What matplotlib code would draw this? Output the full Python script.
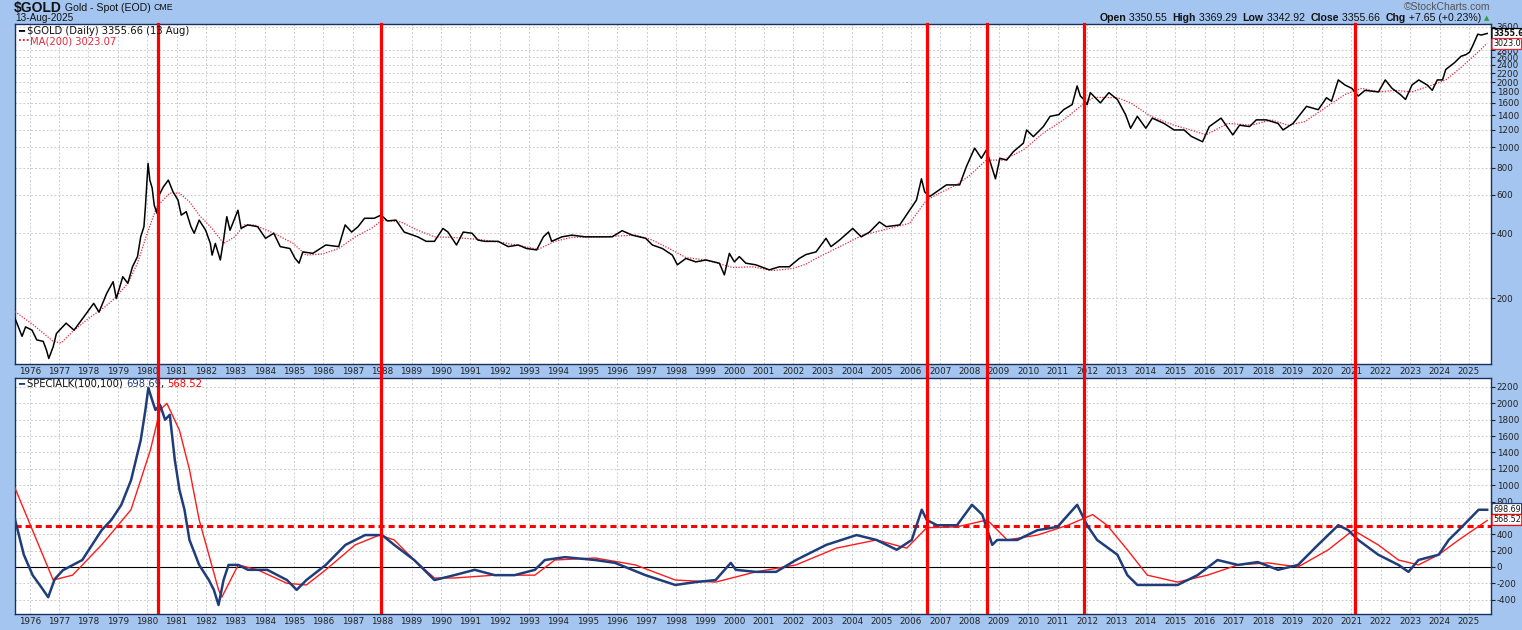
import matplotlib
matplotlib.use('Agg')
import matplotlib.pyplot as plt
from matplotlib.ticker import FixedLocator, NullLocator

# ---- data ----
gold_years = [1975.50, 1975.74, 1975.86, 1976.08, 1976.24, 1976.46, 1976.57, 1976.65, 1976.80, 1976.91,
              1977.24, 1977.51, 1977.85, 1978.18, 1978.36, 1978.62, 1978.84, 1978.95, 1979.17, 1979.34,
              1979.50, 1979.67, 1979.78, 1979.89, 1979.94, 1980.03, 1980.09, 1980.17, 1980.24, 1980.33,
              1980.41, 1980.55, 1980.72, 1980.88, 1981.05, 1981.16, 1981.33, 1981.49, 1981.60, 1981.77,
              1981.99, 1982.15, 1982.21, 1982.32, 1982.49, 1982.60, 1982.71, 1982.82, 1983.09, 1983.20,
              1983.42, 1983.76, 1984.03, 1984.31, 1984.53, 1984.86, 1985.03, 1985.17, 1985.30, 1985.64,
              1986.08, 1986.52, 1986.74, 1986.96, 1987.18, 1987.40, 1987.73, 1987.96, 1988.18, 1988.47,
              1988.75, 1989.21, 1989.50, 1989.78, 1990.07, 1990.24, 1990.53, 1990.76, 1991.06, 1991.26,
              1991.49, 1991.95, 1992.29, 1992.63, 1992.92, 1993.26, 1993.49, 1993.66, 1993.77, 1994.12,
              1994.46, 1994.91, 1995.37, 1995.83, 1996.17, 1996.51, 1996.97, 1997.20, 1997.54, 1997.88,
              1998.05, 1998.34, 1998.68, 1999.02, 1999.48, 1999.65, 1999.82, 1999.99, 2000.16, 2000.38,
              2000.72, 2001.18, 2001.52, 2001.86, 2002.20, 2002.43, 2002.77, 2003.11, 2003.28, 2003.57,
              2004.02, 2004.31, 2004.59, 2004.93, 2005.16, 2005.62, 2005.96, 2006.19, 2006.36, 2006.47,
              2006.64, 2006.87, 2007.21, 2007.66, 2007.89, 2008.17, 2008.40, 2008.57, 2008.75, 2008.88,
              2009.03, 2009.26, 2009.49, 2009.83, 2009.94, 2010.17, 2010.51, 2010.74, 2011.03, 2011.20,
              2011.49, 2011.66, 2011.77, 2011.89, 2012.00, 2012.11, 2012.45, 2012.74, 2013.03, 2013.31,
              2013.48, 2013.71, 2014.00, 2014.22, 2014.62, 2014.96, 2015.30, 2015.55, 2015.93, 2016.16,
              2016.56, 2016.96, 2017.19, 2017.53, 2017.76, 2018.10, 2018.50, 2018.67, 2019.01, 2019.47,
              2019.87, 2020.15, 2020.32, 2020.55, 2020.78, 2021.01, 2021.23, 2021.46, 2021.92, 2022.15,
              2022.38, 2022.66, 2022.84, 2023.06, 2023.29, 2023.58, 2023.75, 2023.92, 2024.10, 2024.21,
              2024.50, 2024.73, 2024.90, 2025.02, 2025.13, 2025.30, 2025.42, 2025.62]
gold_close = [161, 133, 147, 142, 128, 126, 115, 105, 119, 137,
              153, 142, 164, 189, 172, 210, 238, 199, 251, 234,
              279, 311, 384, 428, 530, 840, 703, 646, 538, 494,
              600, 654, 703, 620, 568, 484, 502, 428, 399, 459,
              412, 358, 316, 358, 300, 371, 476, 412, 510, 420,
              436, 428, 378, 399, 346, 339, 306, 290, 327, 322,
              352, 346, 436, 404, 428, 468, 468, 484, 455, 459,
              404, 384, 366, 366, 420, 404, 352, 404, 399, 371,
              366, 366, 346, 352, 339, 334, 384, 404, 366, 384,
              391, 384, 384, 384, 410, 391, 378, 352, 339, 316,
              285, 305, 294, 300, 290, 256, 322, 294, 311, 290,
              285, 270, 279, 279, 305, 318, 327, 378, 346, 371,
              420, 384, 404, 450, 428, 436, 510, 568, 713, 620,
              590, 620, 668, 668, 812, 989, 887, 970, 812, 713,
              887, 870, 952, 1042, 1200, 1117, 1244, 1387, 1412, 1489,
              1572, 1918, 1722, 1661, 1572, 1786, 1601, 1786, 1661, 1412,
              1222, 1387, 1222, 1361, 1286, 1200, 1200, 1120, 1058, 1244,
              1361, 1138, 1262, 1244, 1336, 1336, 1286, 1200, 1286, 1543,
              1489, 1692, 1630, 2045, 1937, 1870, 1722, 1830, 1800, 2045,
              1870, 1751, 1661, 1937, 2045, 1937, 1830, 2045, 2045, 2286,
              2453, 2631, 2679, 2750, 2950, 3330, 3300, 3356]

ma_years = [1975.50, 1976.13, 1976.80, 1977.07, 1977.46, 1978.01, 1978.56, 1978.89, 1979.34, 1979.67,
            1980.00, 1980.33, 1980.77, 1981.10, 1981.44, 1981.77, 1982.21, 1982.60, 1982.98, 1983.31,
            1983.65, 1984.31, 1984.97, 1985.41, 1985.97, 1986.52, 1987.08, 1987.63, 1988.00, 1988.64,
            1989.21, 1989.78, 1990.35, 1991.26, 1992.06, 1992.85, 1993.31, 1993.88, 1994.46, 1995.48,
            1996.63, 1997.20, 1997.77, 1998.34, 1999.02, 1999.93, 2000.61, 2001.30, 2001.98, 2002.43,
            2002.77, 2003.45, 2004.36, 2005.27, 2005.96, 2006.53, 2006.98, 2007.55, 2008.01, 2008.57,
            2009.14, 2009.83, 2010.51, 2011.20, 2011.77, 2012.22, 2013.03, 2013.48, 2014.17, 2014.96,
            2015.53, 2016.04, 2016.79, 2017.59, 2018.27, 2018.84, 2019.41, 2020.09, 2020.78, 2021.35,
            2021.92, 2022.49, 2023.06, 2023.75, 2024.21, 2024.78, 2025.35, 2025.62]
ma_vals = [173, 150, 126, 124, 140, 161, 182, 199, 234, 290,
           399, 530, 612, 612, 558, 484, 420, 358, 384, 436,
           436, 399, 358, 316, 320, 339, 384, 420, 459, 450,
           412, 384, 382, 374, 362, 346, 336, 366, 382, 384,
           391, 371, 339, 308, 300, 277, 279, 268, 274, 287,
           305, 339, 391, 420, 444, 568, 612, 668, 740, 870,
           870, 970, 1161, 1336, 1543, 1700, 1692, 1601, 1387, 1262,
           1200, 1138, 1286, 1262, 1336, 1262, 1311, 1515, 1751, 1870,
           1800, 1830, 1800, 1937, 2045, 2367, 2783, 3023]

sk_years = [1975.50, 1975.80, 1976.10, 1976.40, 1976.63, 1976.85, 1977.13, 1977.79, 1978.45, 1978.78,
            1979.12, 1979.45, 1979.78, 1979.94, 1980.04, 1980.17, 1980.28, 1980.44, 1980.61, 1980.77,
            1980.94, 1981.10, 1981.27, 1981.44, 1981.77, 1982.10, 1982.27, 1982.43, 1982.60, 1982.77,
            1983.10, 1983.43, 1984.09, 1984.76, 1985.09, 1985.42, 1986.08, 1986.75, 1987.42, 1988.00,
            1988.41, 1989.09, 1989.78, 1990.46, 1991.15, 1991.83, 1992.51, 1993.20, 1993.54, 1994.22,
            1995.25, 1995.93, 1996.96, 1997.98, 1998.67, 1999.35, 1999.87, 2000.04, 2000.72, 2001.41,
            2002.09, 2003.12, 2004.15, 2004.83, 2005.52, 2006.03, 2006.37, 2006.54, 2006.89, 2007.57,
            2008.08, 2008.43, 2008.77, 2008.94, 2009.62, 2010.31, 2010.99, 2011.66, 2012.00, 2012.34,
            2013.03, 2013.37, 2013.71, 2014.39, 2015.08, 2015.76, 2016.44, 2017.13, 2017.81, 2018.50,
            2019.18, 2019.86, 2020.55, 2020.89, 2021.23, 2021.91, 2022.60, 2022.94, 2023.28, 2023.97,
            2024.31, 2024.65, 2024.99, 2025.33, 2025.62]
sk_vals = [580, 150, -100, -250, -370, -150, -40, 85, 450, 575,
           760, 1060, 1550, 1920, 2190, 2040, 1920, 1980, 1800, 1860,
           1310, 940, 700, 330, 25, -160, -280, -465, -160, 25,
           25, -35, -35, -160, -280, -160, 25, 270, 390, 390,
           270, 85, -160, -100, -35, -100, -100, -35, 85, 120,
           85, 50, -100, -220, -185, -160, 50, -35, -60, -60,
           85, 270, 390, 330, 210, 330, 700, 575, 510, 510,
           760, 640, 270, 330, 330, 450, 490, 760, 510, 330,
           150, -100, -220, -220, -220, -100, 85, 25, 60, -35,
           25, 270, 510, 450, 330, 150, 25, -60, 85, 150,
           330, 450, 575, 700, 699]

sig_years = [1975.50, 1976.80, 1977.46, 1978.45, 1979.45, 1980.11, 1980.44, 1980.67, 1981.10, 1981.44,
             1981.77, 1982.10, 1982.43, 1982.54, 1983.10, 1983.76, 1984.76, 1985.42, 1986.08, 1987.08,
             1987.91, 1988.41, 1989.09, 1989.78, 1990.46, 1991.83, 1993.20, 1993.88, 1995.25, 1996.62,
             1997.98, 1999.35, 2000.72, 2002.09, 2003.46, 2004.83, 2005.86, 2006.54, 2007.57, 2008.60,
             2009.28, 2010.31, 2011.34, 2012.19, 2012.68, 2013.37, 2014.05, 2015.08, 2016.10, 2017.13,
             2018.16, 2019.18, 2020.21, 2021.06, 2021.91, 2022.60, 2023.28, 2023.97, 2024.65, 2025.62]
sig_vals = [965, -160, -100, 270, 700, 1430, 1920, 2000, 1670, 1190,
            575, 150, -280, -370, 25, -35, -200, -220, -35, 270,
            390, 330, 85, -135, -135, -100, -100, 85, 110, 25,
            -160, -185, -60, 25, 230, 330, 230, 480, 490, 575,
            330, 390, 510, 640, 510, 210, -100, -185, -100, 25,
            50, 0, 210, 450, 270, 85, 25, 150, 330, 568]

signal_dates = [1980.38, 1987.95, 2006.55, 2008.60, 2011.90, 2021.13]
year_ticks = list(range(1976, 2026))
gold_ticks = [200, 400, 600, 800, 1000, 1200, 1400, 1600, 1800, 2000, 2200, 2400, 2600, 2800, 3600]
sk_ticks = list(range(-400, 2201, 200))
sk_hidden = [600]   # covered by the value tags in the original

W, H = 1522, 630
BG = '#a4c5f0'
plt.rcParams['font.family'] = 'DejaVu Sans'

fig = plt.figure(figsize=(W / 100, H / 100), dpi=100, facecolor=BG)


def box(x0, y0, x1, y1):
    return [x0 / W, 1 - y1 / H, (x1 - x0) / W, (y1 - y0) / H]


ax1 = fig.add_axes(box(15, 24, 1491, 364))
ax2 = fig.add_axes(box(15, 378, 1491, 614))

for ax in (ax1, ax2):
    ax.set_xlim(1975.5, 2025.75)
    ax.xaxis.set_major_locator(FixedLocator(year_ticks))
    ax.set_xticklabels([str(y) for y in year_ticks])
    ax.yaxis.tick_right()
    ax.tick_params(axis='x', length=0, pad=2, labelsize=6.3, colors='#222222')
    ax.tick_params(axis='y', direction='out', length=3, width=0.8, pad=1,
                   labelsize=6.3, colors='#222222')
    ax.grid(True, color='#cccccc', ls=(0, (2, 2)), lw=0.7)
    ax.set_axisbelow(True)
    for s in ax.spines.values():
        s.set_color('#1c2f5c')
        s.set_linewidth(1.0)

# top panel: gold price on log scale
ax1.set_yscale('log')
ax1.set_ylim(99, 3712)
ax1.yaxis.set_major_locator(FixedLocator(gold_ticks))
ax1.yaxis.set_minor_locator(NullLocator())
ax1.set_yticklabels([str(t) for t in gold_ticks])
ax1.plot(ma_years, ma_vals, color='#e8283c', lw=0.9, ls=(0, (1, 1.2)), zorder=3)
ax1.plot(gold_years, gold_close, color='black', lw=1.1, zorder=4)

# bottom panel: SPECIALK
ax2.set_ylim(-575, 2310)
ax2.yaxis.set_major_locator(FixedLocator(sk_ticks))
ax2.set_yticklabels(['' if t in sk_hidden else str(t) for t in sk_ticks])
ax2.axhline(0, color='black', lw=0.8, zorder=2)
ax2.axhline(500, color='#ff0000', lw=2.2, ls=(0, (2, 1.3)), zorder=2)
ax2.plot(sig_years, sig_vals, color='#ff1a1a', lw=1.0, zorder=3)
ax2.plot(sk_years, sk_vals, color='#1f3d7a', lw=1.8, zorder=4)

# red vertical lines through both panels
for d in signal_dates:
    ax1.axvline(d, ymin=-14 / 340, ymax=1, color='#ff0000', lw=2.3, clip_on=False, zorder=6)
    ax2.axvline(d, color='#ff0000', lw=2.3, zorder=6)

renderer = fig.canvas.get_renderer()


def chain(x, y, pieces, family='DejaVu Sans', right=None):
    # write text pieces one after another from pixel x (or ending at pixel `right`)
    texts = []
    for s, color, weight, size in pieces:
        t = fig.text(x / W, 1 - y / H, s, color=color, fontweight=weight, fontsize=size,
                     family=family, ha='left', va='center')
        texts.append(t)
        x = t.get_window_extent(renderer).x1
    if right is not None:
        shift = (right - x) / W
        for t in texts:
            t.set_x(t.get_position()[0] + shift)
        x = right
    return x


# header
chain(14, 8, [('$GOLD', '#111111', 'bold', 10), (' Gold - Spot (EOD) ', '#111111', 'normal', 7.6),
              ('CME', '#111111', 'normal', 6.3)], family='Liberation Sans')
fig.text(15 / W, 1 - 18 / H, '13-Aug-2025', fontsize=7.2, color='#111111', va='center',
         family='Liberation Sans')
fig.text(1490 / W, 1 - 7 / H, '\u00a9StockCharts.com', fontsize=7.5, color='#555555',
         ha='right', va='center', family='Liberation Sans')
hs = 7.6
chain(0, 18, [('Open', '#111111', 'bold', hs), (' 3350.55  ', '#111111', 'normal', hs),
              ('High', '#111111', 'bold', hs), (' 3369.29  ', '#111111', 'normal', hs),
              ('Low', '#111111', 'bold', hs), (' 3342.92  ', '#111111', 'normal', hs),
              ('Close', '#111111', 'bold', hs), (' 3355.66  ', '#111111', 'normal', hs),
              ('Chg', '#111111', 'bold', hs), (' +7.65 (+0.23%) ', '#111111', 'normal', hs)],
      family='Liberation Sans', right=1484)
fig.text(1484 / W, 1 - 18 / H, '\u25b2', fontsize=5, color='#2e9e3a', va='center')

# panel legends
lf = 7.2
chain(18, 31, [('\u2501 ', 'black', 'normal', lf), ('$GOLD (Daily) 3355.66 (13 Aug)', '#111111', 'normal', lf)])
chain(18, 41, [('\u00b7\u00b7\u00b7', '#e8283c', 'bold', lf), ('MA(200) 3023.07', '#e8283c', 'normal', lf)])
chain(18, 384, [('\u2501 ', '#1f3d7a', 'normal', lf), ('SPECIALK(100,100) ', '#111111', 'normal', lf),
                ('698.69', '#1f3d7a', 'normal', lf), (', ', '#111111', 'normal', lf),
                ('568.52', '#ff0000', 'normal', lf)])

# last value tags on the right axis
for y, s, ec, fw in [(34, '3355.6', 'black', 'bold'), (44, '3023.0', '#e8283c', 'normal'),
                     (509, '698.69', '#1f3d7a', 'normal'), (520, '568.52', '#ff0000', 'normal')]:
    fig.text(1493 / W, 1 - y / H, s, fontsize=5.8, color='#111111', va='center', ha='left',
             fontweight=fw,
             bbox=dict(boxstyle='round,pad=0.12', fc='white', ec=ec, lw=0.9))

fig.savefig('out.png', dpi=100, facecolor=BG)
